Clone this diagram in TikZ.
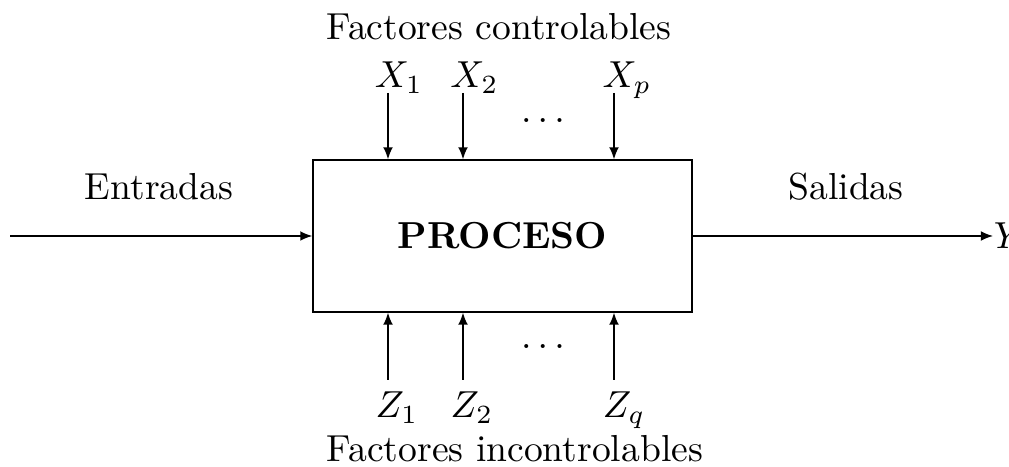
\documentclass[tikz,border=0pt]{standalone}
\usetikzlibrary{arrows.meta}
\begin{document}
\begin{tikzpicture}[x=0.266pt,y=-0.266pt,
  flow/.style={-{Latex[length=3.2pt,width=2.6pt]}, line width=0.4pt},
  lab/.style={anchor=base, inner sep=0pt}]
\useasboundingbox (0,0) rectangle (1009,467);
\node[draw, line width=0.4pt, minimum width=100.8pt, minimum height=40.4pt, inner sep=0pt] (proc) at (502.5,236) {\textbf{PROCESO}};
% titles
\node[lab] (fc) at (499,40) {Factores controlables};
\node[lab] (fi) at (515,462) {Factores incontrolables};
\node[lab] (ent) at (159,200) {Entradas};
\node[lab] (sal) at (846,200) {Salidas};
% top inputs
\coordinate (t1) at (388,93);
\coordinate (t2) at (463,93);
\coordinate (t3) at (614,93);
\node[lab] (x1) at (399,88) {$X_1$};
\node[lab] (x2) at (474.5,88) {$X_2$};
\node[lab] (xp) at (627,88) {$X_p$};
\node[lab] (dt) at (543,123) {$\ldots$};
\draw[flow] (t1) -- (t1 |- proc.north);
\draw[flow] (t2) -- (t2 |- proc.north);
\draw[flow] (t3) -- (t3 |- proc.north);
% bottom inputs
\coordinate (b1) at (388,380);
\coordinate (b2) at (463,380);
\coordinate (b3) at (614,380);
\node[lab] (z1) at (397,418) {$Z_1$};
\node[lab] (z2) at (472,418) {$Z_2$};
\node[lab] (zq) at (624,418) {$Z_q$};
\node[lab] (db) at (543,349) {$\ldots$};
\draw[flow] (b1) -- (b1 |- proc.south);
\draw[flow] (b2) -- (b2 |- proc.south);
\draw[flow] (b3) -- (b3 |- proc.south);
% input / output
\coordinate (in) at (10,236);
\draw[flow] (in) -- (proc.west);
\node[anchor=west, inner sep=0pt] (Y) at (993,236) {$Y$};
\draw[flow] (proc.east) -- (proc.east -| Y.west);
\end{tikzpicture}
\end{document}
